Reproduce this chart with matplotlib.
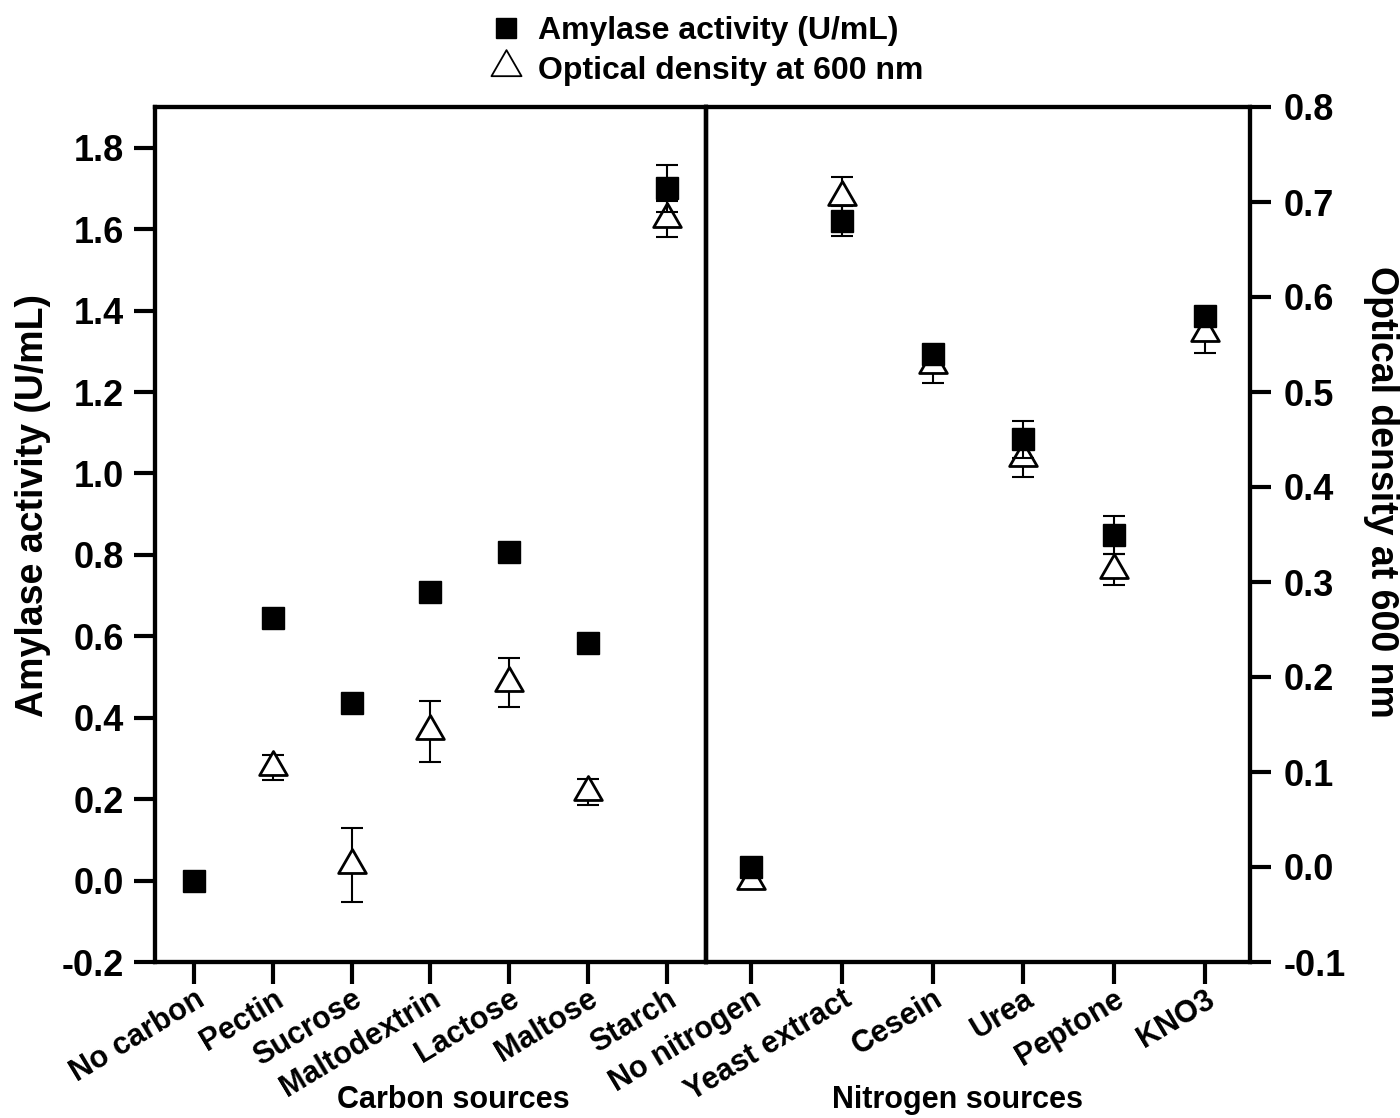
import numpy as np
import matplotlib
matplotlib.use('Agg')
import matplotlib.pyplot as plt
from matplotlib.path import Path
from matplotlib.lines import Line2D

plt.rcParams['font.family'] = ['Liberation Sans', 'DejaVu Sans']
plt.rcParams['font.weight'] = 'bold'

# Carbon sources
carbon = ['No carbon', 'Pectin', 'Sucrose', 'Maltodextrin', 'Lactose', 'Maltose', 'Starch']
carbon_amylase = [0.0, 0.645, 0.437, 0.708, 0.807, 0.583, 1.70]
carbon_amylase_err = [0.01, 0.01, 0.01, 0.01, 0.01, 0.01, 0.057]
carbon_od = [np.nan, 0.105, 0.002, 0.143, 0.194, 0.079, 0.682]
carbon_od_err = [0.0, 0.013, 0.039, 0.032, 0.026, 0.0135, 0.019]

# Nitrogen sources
nitrogen = ['No nitrogen', 'Yeast extract', 'Cesein', 'Urea', 'Peptone', 'KNO3']
nitrogen_amylase = [0.034, 1.620, 1.293, 1.084, 0.849, 1.387]
nitrogen_amylase_err = [0.01, 0.036, 0.01, 0.045, 0.047, 0.01]
nitrogen_od = [-0.015, 0.705, 0.528, 0.431, 0.313, 0.562]
nitrogen_od_err = [0.005, 0.021, 0.019, 0.02, 0.016, 0.021]

amylase_ticks = [-0.2, 0.0, 0.2, 0.4, 0.6, 0.8, 1.0, 1.2, 1.4, 1.6, 1.8]
od_ticks = [-0.1, 0.0, 0.1, 0.2, 0.3, 0.4, 0.5, 0.6, 0.7, 0.8]

# triangle centred on its centroid, like Origin draws it
tri = Path([(0, 1), (-0.866, -0.5), (0.866, -0.5), (0, 1)],
           [Path.MOVETO, Path.LINETO, Path.LINETO, Path.CLOSEPOLY])

fig = plt.figure(figsize=(14, 11.18), dpi=100)
ax_c = fig.add_axes([155 / 1400, 1 - 962 / 1118, 551 / 1400, 855 / 1118])
ax_n = fig.add_axes([706 / 1400, 1 - 962 / 1118, 544 / 1400, 855 / 1118])
ax_c2 = ax_c.twinx()
ax_n2 = ax_n.twinx()


def draw_panel(ax, ax2, names, amy, amy_err, od, od_err):
    x = np.arange(len(names))
    # optical density on the twin axis, underneath
    ax2.errorbar(x, od, yerr=od_err, fmt='none', ecolor='black',
                 elinewidth=1.5, capsize=8, capthick=1.5, zorder=2)
    ax2.plot(x, od, linestyle='none', marker=tri, ms=23, mfc='white',
             mec='black', mew=2, zorder=3)
    # amylase on the main axis, on top
    ax.errorbar(x, amy, yerr=amy_err, fmt='none', ecolor='black',
                elinewidth=1.5, capsize=8, capthick=1.5, zorder=4)
    ax.plot(x, amy, linestyle='none', marker='s', ms=16, color='black',
            zorder=5)
    ax.set_xlim(-0.5, len(names) - 0.5)
    ax.set_xticks(x)
    ax.set_xticklabels(names, rotation=31, ha='right', va='top',
                       rotation_mode='anchor', fontsize=22, fontweight='bold')
    ax.set_ylim(-0.2, 1.9)
    ax2.set_ylim(-0.1, 0.8)
    ax.set_zorder(ax2.get_zorder() + 1)
    ax.patch.set_visible(False)
    for a in (ax, ax2):
        for s in a.spines.values():
            s.set_linewidth(3)
    ax.tick_params(axis='x', direction='out', length=16, width=3, pad=0)


draw_panel(ax_c, ax_c2, carbon, carbon_amylase, carbon_amylase_err,
           carbon_od, carbon_od_err)
draw_panel(ax_n, ax_n2, nitrogen, nitrogen_amylase, nitrogen_amylase_err,
           nitrogen_od, nitrogen_od_err)

# left axis: amylase
ax_c.set_yticks(amylase_ticks)
ax_c.set_yticklabels(['%.1f' % t for t in amylase_ticks], fontsize=26, fontweight='bold')
ax_c.tick_params(axis='y', direction='out', length=15, width=3, pad=7)
ax_c2.tick_params(axis='y', right=False, labelright=False)
ax_c.set_ylabel('Amylase activity (U/mL)', fontsize=27, fontweight='bold')
ax_c.yaxis.set_label_coords(-0.188, 0.5345)

# right axis: optical density
ax_n.tick_params(axis='y', left=False, labelleft=False)
ax_n2.set_yticks(od_ticks)
ax_n2.set_yticklabels(['%.1f' % t for t in od_ticks], fontsize=26, fontweight='bold')
ax_n2.tick_params(axis='y', direction='out', length=15, width=3, pad=9)
ax_n2.set_ylabel('Optical density at 600 nm', fontsize=27, fontweight='bold',
                 rotation=270, va='bottom')
ax_n2.yaxis.set_label_coords(1.208, 0.5497)

fig.text(453 / 1400, 1 - 1100 / 1118, 'Carbon sources', ha='center', va='center',
         fontsize=22, fontweight='bold')
fig.text(957 / 1400, 1 - 1100 / 1118, 'Nitrogen sources', ha='center', va='center',
         fontsize=22, fontweight='bold')

handles = [
    Line2D([], [], linestyle='none', marker='s', ms=14, color='black'),
    Line2D([], [], linestyle='none', marker=tri, ms=25, mfc='white',
           mec='black', mew=1.3),
]
fig.legend(handles, ['Amylase activity (U/mL)', 'Optical density at 600 nm'],
           loc='upper left', bbox_to_anchor=(466 / 1400, 1.0), frameon=False,
           prop={'size': 23, 'weight': 'bold'}, handletextpad=0.25,
           labelspacing=0.3, borderaxespad=0.1, handlelength=1.5)

fig.savefig('out.png', dpi=100, facecolor='white')
